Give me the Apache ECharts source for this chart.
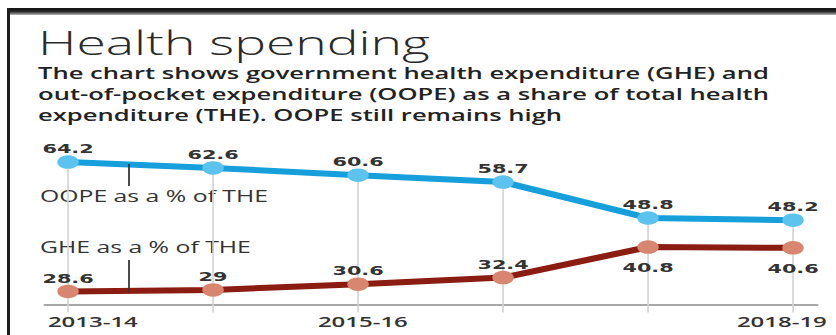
<!DOCTYPE html>
<html>
<head>
<meta charset="utf-8">
<script src="https://cdn.jsdelivr.net/npm/echarts@6/dist/echarts.min.js"></script>
<style>
  html, body { margin: 0; padding: 0; background: #fff; width: 836px; height: 335px; overflow: hidden; }
  #chart { position: absolute; left: 0; top: 0; width: 523px; height: 335px; transform-origin: 0 0; transform: scaleX(1.59847); }
  #frameTop { position: absolute; left: 7px; top: 8px; width: 829px; height: 7px;
    background: linear-gradient(#151515 0%, #202020 45%, #6a6a6a 75%, #bdbdbd 100%); }
  #frameLeft { position: absolute; left: 7px; top: 8px; width: 3px; height: 327px; background: #1e1e1e; }
</style>
</head>
<body>
<div id="chart"></div>
<div id="frameTop"></div>
<div id="frameLeft"></div>
<script>
// ---- data ----
const categories = ['2013-14', '2014-15', '2015-16', '2016-17', '2017-18', '2018-19'];
const oopeValues = [64.2, 62.6, 60.6, 58.7, 48.8, 48.2];
const gheValues = [28.6, 29, 30.6, 32.4, 40.8, 40.6];
const gheLabelSide = ['top', 'top', 'top', 'top', 'bottom', 'bottom'];
const xTickLabels = [0, 2, 5];
const titleText = 'Health spending';
const subtitleLines = [
  'The chart shows government health expenditure (GHE) and',
  'out-of-pocket expenditure (OOPE) as a share of total health',
  'expenditure (THE). OOPE still remains high'
];
const oopeName = 'OOPE as a % of THE';
const gheName = 'GHE as a % of THE';

const Y_MIN = 25, Y_MAX = 70;

const chart = echarts.init(document.getElementById('chart'), null, { renderer: 'svg' });

const labelFont = { fontFamily: 'DejaVu Sans', fontWeight: 'bold', fontSize: 13, color: '#333' };

chart.setOption({
  animation: false,
  backgroundColor: '#fff',
  title: [
    { text: titleText, left: 23.8, top: 25, padding: 0,
      textStyle: { fontFamily: 'Open Sans', fontWeight: 300, fontSize: 33.4, color: '#2a2a2a' } },
    { text: subtitleLines.join('\n'), left: 23.8, top: 62, padding: 0,
      textStyle: { fontFamily: 'Open Sans', fontWeight: 600, fontSize: 16, lineHeight: 21, color: '#222' } }
  ],
  grid: { left: 28.15, right: 11.9, top: 141, bottom: 30.5, outerBoundsMode: 'none' },
  xAxis: {
    type: 'value', min: -0.159, max: 5.165,
    splitLine: { show: false },
    axisLine: { show: true, onZero: false, lineStyle: { color: '#a8a8a8', width: 2 } },
    axisTick: { show: false },
    axisLabel: {
      customValues: xTickLabels,
      margin: 9,
      formatter: function (v) {
        const idx = Math.round(v);
        const key = idx === 0 ? 'a' : (idx === categories.length - 1 ? 'b' : 'c');
        return '{' + key + '|' + categories[idx] + '}';
      },
      rich: {
        a: { fontFamily: 'Open Sans', fontWeight: 600, fontSize: 15, color: '#333', padding: [0, 0, 0, 31] },
        b: { fontFamily: 'Open Sans', fontWeight: 600, fontSize: 15, color: '#333', padding: [0, 14, 0, 0] },
        c: { fontFamily: 'Open Sans', fontWeight: 600, fontSize: 15, color: '#333', padding: [0, 0, 0, 6] }
      }
    }
  },
  yAxis: { type: 'value', min: Y_MIN, max: Y_MAX, show: false, splitLine: { show: false } },
  graphic: [
    { type: 'text', left: 25, top: 187.5, style: { text: oopeName, fontFamily: 'Open Sans', fontSize: 15.5, fill: '#333' } },
    { type: 'text', left: 25, top: 239, style: { text: gheName, fontFamily: 'Open Sans', fontSize: 15.5, fill: '#333' } },
    { type: 'line', shape: { x1: 80.7, y1: 164, x2: 80.7, y2: 186 }, style: { stroke: '#333', lineWidth: 1.1 }, z: 100 },
    { type: 'line', shape: { x1: 80.7, y1: 260, x2: 80.7, y2: 292 }, style: { stroke: '#333', lineWidth: 1.1 }, z: 100 }
  ],
  series: [
    {
      type: 'custom', z: 1, clip: false, silent: true,
      data: oopeValues.map((v, i) => [i, v]),
      renderItem: function (params, api) {
        const top = api.coord([api.value(0), api.value(1)]);
        const bottom = api.coord([api.value(0), Y_MIN]);
        return { type: 'line', shape: { x1: top[0], y1: top[1], x2: bottom[0], y2: bottom[1] + 8 },
          style: { stroke: '#d2d2d2', lineWidth: 1 } };
      }
    },
    {
      name: oopeName, type: 'line', z: 3,
      data: oopeValues.map((v, i) => [i, v]),
      lineStyle: { color: '#169fdb', width: 6 },
      itemStyle: { color: '#5cc3ee' },
      symbol: 'circle', symbolSize: 13.5, showAllSymbol: true,
      label: { show: true, position: 'top', distance: 0, formatter: p => String(p.value[1]), ...labelFont }
    },
    {
      name: gheName, type: 'line', z: 3,
      data: gheValues.map((v, i) => ({ value: [i, v],
        label: { position: gheLabelSide[i], distance: gheLabelSide[i] === 'top' ? 0 : 7 } })),
      lineStyle: { color: '#8a1c12', width: 6 },
      itemStyle: { color: '#d8866f' },
      symbol: 'circle', symbolSize: 13.5, showAllSymbol: true,
      label: { show: true, formatter: p => String(p.value[1]), ...labelFont }
    }
  ]
});
</script>
</body>
</html>
